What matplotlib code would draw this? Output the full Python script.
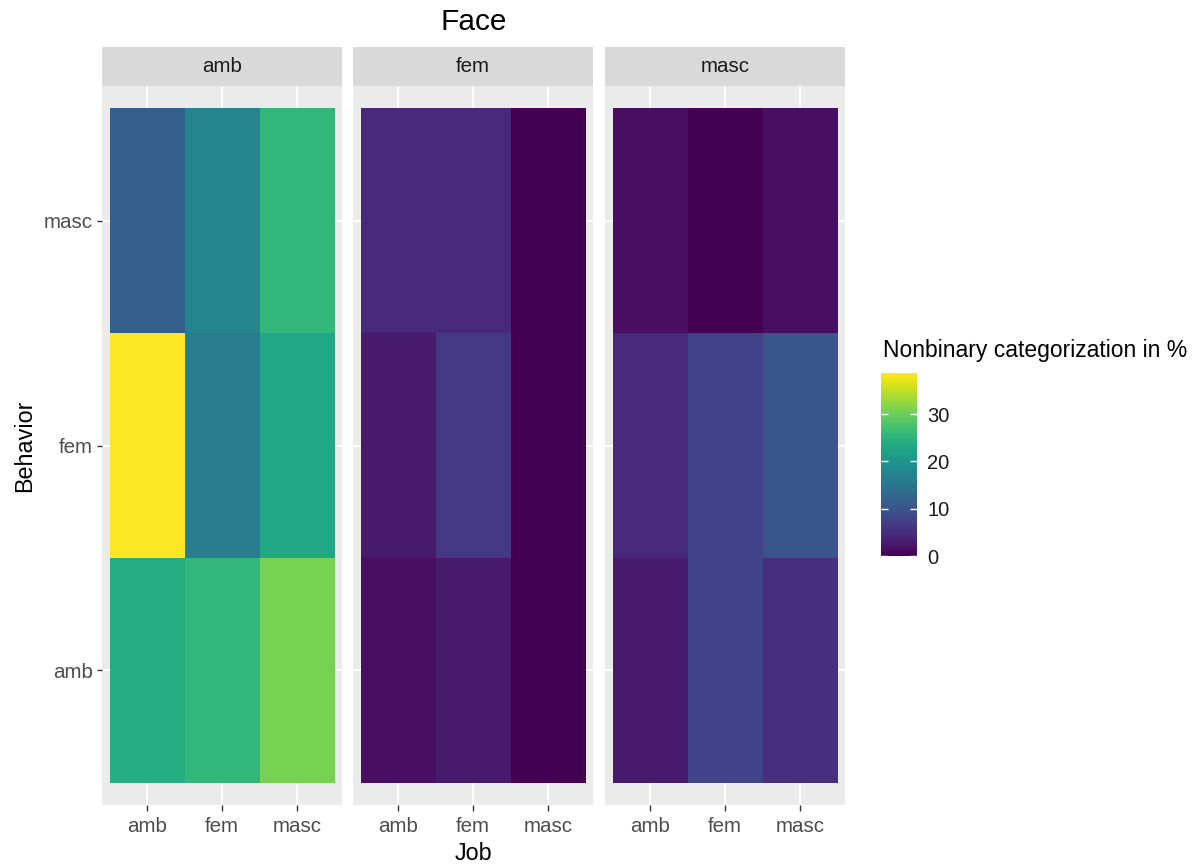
import numpy as np
import matplotlib
matplotlib.use("Agg")
import matplotlib.pyplot as plt
from matplotlib.colors import Normalize
from matplotlib.cm import ScalarMappable

plt.rcParams['font.family'] = ['Liberation Sans', 'DejaVu Sans']

# categories
faces = ["amb", "fem", "masc"]
jobs = ["amb", "fem", "masc"]
behaviors = ["amb", "fem", "masc"]

# nonbinary categorization in %, rows = behavior (amb, fem, masc), cols = job
face_amb = [[24.0, 25.5, 30.8],
            [38.7, 16.0, 23.0],
            [11.5, 17.5, 25.5]]
face_fem = [[1.5, 2.7, 0.0],
            [2.7, 6.2, 0.0],
            [4.3, 4.3, 0.0]]
face_masc = [[2.7, 7.7, 5.4],
             [4.3, 7.7, 10.2],
             [1.5, 0.0, 1.5]]
panels = [face_amb, face_fem, face_masc]

W, H = 1193, 868
fig = plt.figure(figsize=(W / 100, H / 100), dpi=100)


def box(x0, y0, x1, y1):
    # pixel box (top-left origin) -> figure fraction rect
    return [x0 / W, 1 - y1 / H, (x1 - x0) / W, (y1 - y0) / H]


vmax = max(np.max(p) for p in panels)
norm = Normalize(vmin=0, vmax=vmax)
cmap = plt.get_cmap("viridis")

panel_x = [(102, 342), (353, 593), (605, 845)]
strip_top, strip_bot, panel_bot = 47, 86, 805
tick_col = "#333333"
lab_col = "#4d4d4d"
small = 14.8

for i, (face, vals) in enumerate(zip(faces, panels)):
    x0, x1 = panel_x[i]
    ax = fig.add_axes(box(x0, strip_bot, x1, panel_bot))
    ax.set_facecolor("#ebebeb")
    edges = np.arange(len(jobs) + 1) - 0.5
    ax.pcolormesh(edges, edges, np.array(vals), cmap=cmap, norm=norm,
                  edgecolor='none', zorder=2)
    ax.set_xlim(-0.6, len(jobs) - 0.4)
    ax.set_ylim(-0.6, len(behaviors) - 0.4)
    ax.set_xticks(range(len(jobs)))
    ax.set_xticklabels(jobs)
    ax.set_yticks(range(len(behaviors)))
    ax.set_yticklabels(behaviors)
    ax.grid(True, color='white', linewidth=1.4, zorder=1)
    ax.set_axisbelow(True)
    for s in ax.spines.values():
        s.set_visible(False)
    ax.tick_params(axis='x', colors=tick_col, labelcolor=lab_col,
                   labelsize=small, length=4.3, width=1.0, pad=4.2)
    if i == 0:
        ax.tick_params(axis='y', colors=tick_col, labelcolor=lab_col,
                       labelsize=small, length=3.8, width=1.0, pad=2.6)
    else:
        ax.tick_params(axis='y', left=False, labelleft=False)

    # facet strip
    sax = fig.add_axes(box(x0, strip_top, x1, strip_bot))
    sax.set_facecolor("#d9d9d9")
    sax.set_xticks([])
    sax.set_yticks([])
    for s in sax.spines.values():
        s.set_visible(False)
    sax.text(0.5, 0.5, face, ha='center', va='center', fontsize=small,
             color="#1a1a1a", transform=sax.transAxes)

# titles
fig.text(473.5 / W, 1 - 22 / H, "Face", ha='center', va='center',
         fontsize=21.5, color='black')
fig.text(473.5 / W, 1 - 853 / H, "Job", ha='center', va='center',
         fontsize=16.8, color='black')
fig.text(25 / W, 1 - 446 / H, "Behavior", ha='center', va='center',
         rotation=90, fontsize=16.8, color='black')

# colour bar legend
cax = fig.add_axes(box(881, 373, 917, 556))
cb = fig.colorbar(ScalarMappable(norm=norm, cmap=cmap), cax=cax)
cb.outline.set_visible(False)
cb.set_ticks([0, 10, 20, 30])
cax.tick_params(axis='y', direction='in', color='white', length=5.2,
                width=1.0, left=True, right=True, labelsize=14.5,
                labelcolor='#1a1a1a', pad=7.5)
fig.text(883 / W, 1 - 351 / H, "Nonbinary categorization in %",
         ha='left', va='center', fontsize=16.5, color='black')

fig.savefig("out.png", dpi=100)
